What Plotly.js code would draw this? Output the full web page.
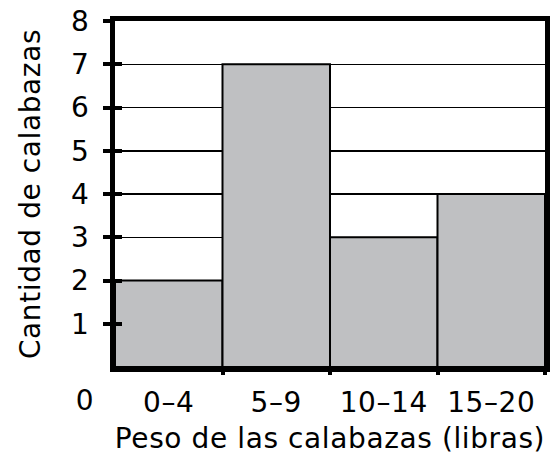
<!DOCTYPE html>
<html><head><meta charset="utf-8">
<script src="https://cdn.plot.ly/plotly-3.0.1.min.js"></script>
<style>html,body{margin:0;padding:0;background:#fff} #chart text{letter-spacing:0.6px}</style>
</head><body><div id="chart" style="width:556px;height:460px"></div>
<script>
const categories = ["0–4", "5–9", "10–14", "15–20"];
const counts = [2, 7, 3, 4];
const yTicks = [1, 2, 3, 4, 5, 6, 7, 8];
const binEdges = [1, 2, 3, 4];

const positions = categories.map((c, i) => i + 0.5);
const font = {family: "DejaVu Sans, Verdana, sans-serif", color: "#000"};
const F = s => Object.assign({size: s}, font);

const traces = [
  {type: "bar", x: positions, y: counts, width: 1,
   marker: {color: "#bfc0c2", line: {color: "#000", width: 2}},
   hoverinfo: "skip", xaxis: "x", yaxis: "y"},
  {type: "scatter", x: [0], y: [0], mode: "markers", marker: {opacity: 0},
   xaxis: "x2", yaxis: "y2", hoverinfo: "skip", showlegend: false}
];

const layout = {
  width: 556, height: 460, showlegend: false,
  paper_bgcolor: "#fff", plot_bgcolor: "#fff",
  margin: {l: 115, r: 11, t: 21, b: 93},
  font: F(28),
  bargap: 0,
  xaxis: {range: [0, 4], tickvals: positions, ticktext: categories, ticks: "",
          showgrid: false, zeroline: false, showline: true, linewidth: 5, linecolor: "#000",
          mirror: true, tickfont: F(28), ticklabelstandoff: 6,
          title: {text: "Peso de las calabazas (libras)", font: F(28), standoff: 12}},
  yaxis: {range: [0, 8], tickvals: yTicks, ticktext: yTicks.map(String), ticks: "outside",
          ticklen: 7, tickwidth: 4, tickcolor: "#000",
          showgrid: true, gridcolor: "#000", gridwidth: 1.5, zeroline: false,
          showline: true, linewidth: 5, linecolor: "#000", mirror: true,
          tickfont: F(28), ticklabelstandoff: 8,
          title: {text: "Cantidad de calabazas", font: F(28), standoff: 24}},
  xaxis2: {overlaying: "x", range: [0, 4], tickvals: binEdges, ticks: "outside", ticklen: 7,
           tickwidth: 4, tickcolor: "#000", showticklabels: false, showgrid: false,
           zeroline: false, showline: false, side: "bottom", anchor: "y2"},
  yaxis2: {overlaying: "y", range: [0, 8], tickvals: yTicks, ticks: "inside", ticklen: 7,
           tickwidth: 4, tickcolor: "#000", showticklabels: false, showgrid: false,
           zeroline: false, showline: false, side: "left", anchor: "x2"},
  annotations: [{text: "0", xref: "paper", yref: "paper", x: -0.07, y: -0.098,
                 xanchor: "center", yanchor: "middle", showarrow: false, font: F(28)}]
};

Plotly.newPlot("chart", traces, layout, {displayModeBar: false, staticPlot: true});
</script></body></html>
